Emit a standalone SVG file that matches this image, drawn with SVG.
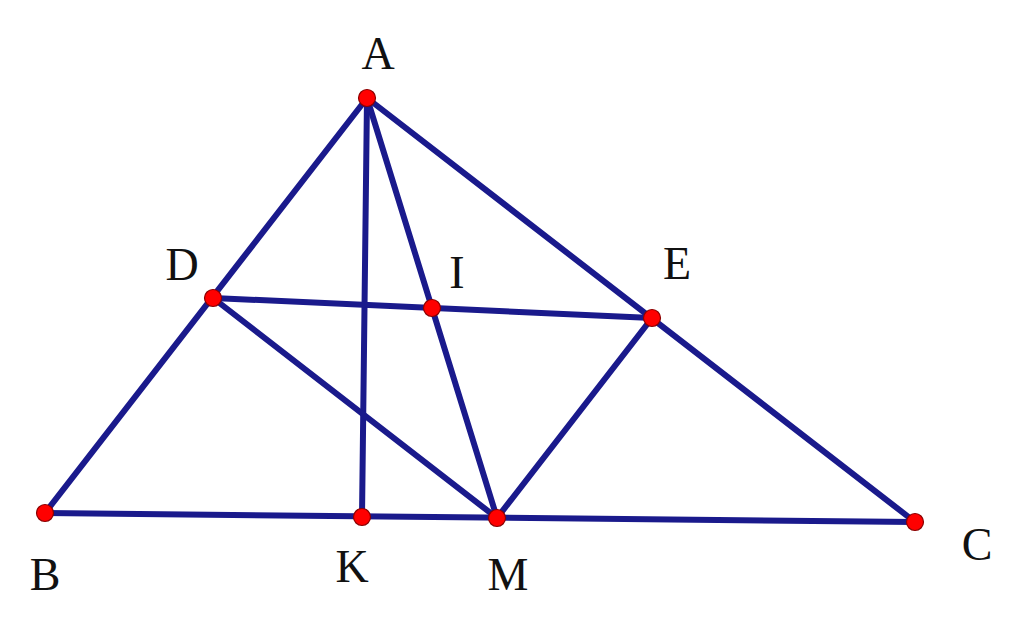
<svg xmlns="http://www.w3.org/2000/svg" width="1024" height="631" viewBox="0 0 1024 631">
<style>
.ln{stroke:#1a1a8c;stroke-width:6;stroke-linecap:round;fill:none}
.pt{fill:#ff0000;stroke:#8a0000;stroke-width:1.2}
.lb{font-family:"Liberation Serif","Times New Roman",serif;font-size:46px;fill:#111;text-anchor:middle}
</style>
<rect width="1024" height="631" fill="#ffffff"/>
<g id="connectors">
<line class="ln" x1="367" y1="98" x2="45" y2="513"/>
<line class="ln" x1="367" y1="98" x2="915" y2="522"/>
<line class="ln" x1="45" y1="513" x2="915" y2="522"/>
<line class="ln" x1="367" y1="98" x2="362" y2="517"/>
<line class="ln" x1="367" y1="98" x2="497" y2="518"/>
<line class="ln" x1="213" y1="298" x2="652" y2="318"/>
<line class="ln" x1="213" y1="298" x2="497" y2="518"/>
<line class="ln" x1="652" y1="318" x2="497" y2="518"/>
</g>
<g id="A"><circle class="pt" cx="367" cy="98" r="8.5"/><text class="lb" x="378" y="69">A</text></g>
<g id="B"><circle class="pt" cx="45" cy="513" r="8.5"/><text class="lb" x="45" y="590">B</text></g>
<g id="C"><circle class="pt" cx="915" cy="522" r="8.5"/><text class="lb" x="977" y="560">C</text></g>
<g id="D"><circle class="pt" cx="213" cy="298" r="8.5"/><text class="lb" x="182" y="280">D</text></g>
<g id="E"><circle class="pt" cx="652" cy="318" r="8.5"/><text class="lb" x="677" y="279">E</text></g>
<g id="I"><circle class="pt" cx="432" cy="308" r="8.5"/><text class="lb" x="457" y="288">I</text></g>
<g id="K"><circle class="pt" cx="362" cy="517" r="8.5"/><text class="lb" x="352" y="582">K</text></g>
<g id="M"><circle class="pt" cx="497" cy="518" r="8.5"/><text class="lb" x="508" y="590">M</text></g>
</svg>
